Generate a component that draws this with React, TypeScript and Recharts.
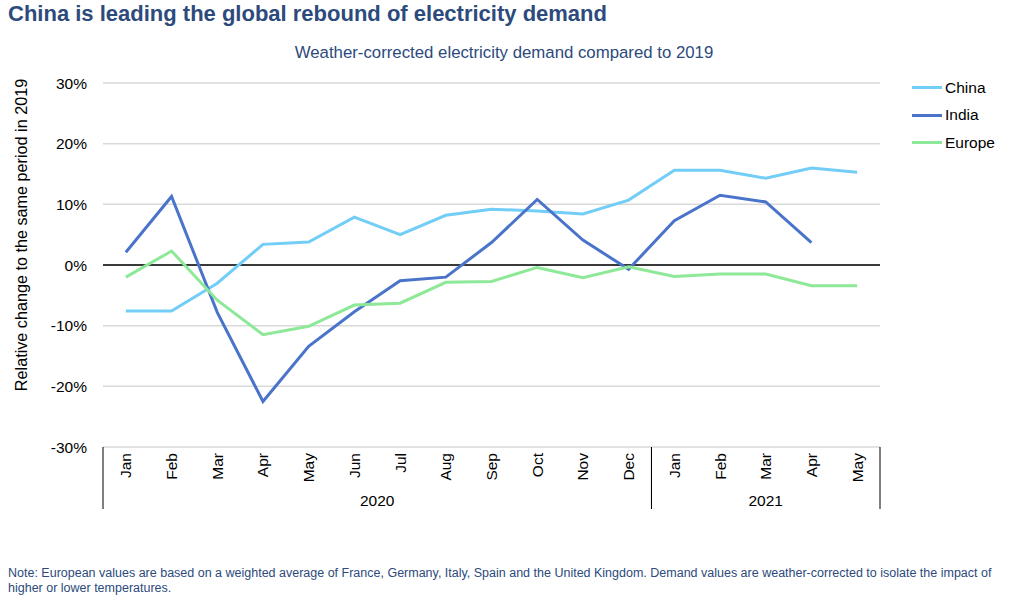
import React from 'react';
import { LineChart, Line, XAxis, YAxis, CartesianGrid, ReferenceLine } from 'recharts';

const months = ['Jan', 'Feb', 'Mar', 'Apr', 'May', 'Jun', 'Jul', 'Aug', 'Sep', 'Oct', 'Nov', 'Dec', 'Jan', 'Feb', 'Mar', 'Apr', 'May'];
const years = ['2020', '2020', '2020', '2020', '2020', '2020', '2020', '2020', '2020', '2020', '2020', '2020', '2021', '2021', '2021', '2021', '2021'];
const china = [-7.6, -7.6, -3.0, 3.4, 3.8, 7.9, 5.0, 8.2, 9.2, 8.9, 8.4, 10.7, 15.6, 15.6, 14.3, 16.0, 15.3];
const india: (number | null)[] = [2.1, 11.3, -7.8, -22.5, -13.4, -7.7, -2.6, -2.0, 3.7, 10.8, 4.1, -0.7, 7.3, 11.5, 10.4, 3.7, null];
const europe = [-2.0, 2.3, -5.8, -11.5, -10.1, -6.6, -6.3, -2.85, -2.7, -0.4, -2.1, -0.3, -1.9, -1.5, -1.5, -3.4, -3.4];
const yTicks = [-30, -20, -10, 0, 10, 20, 30];

const seriesDefs = [
  { key: 'China', values: china, color: '#72CDF7' },
  { key: 'India', values: india, color: '#4A74C9' },
  { key: 'Europe', values: europe, color: '#8DE898' },
];

const data = months.map((m, i) => ({
  idx: i,
  month: m,
  year: years[i],
  China: china[i],
  India: india[i],
  Europe: europe[i],
}));

const FONT = '"Liberation Sans", Arial, Helvetica, sans-serif';
const NAVY = '#2C4A7C';

const PLOT_LEFT = 103;
const PLOT_RIGHT = 880;

const MonthTick = (props: any) => {
  const { x, y, payload } = props;
  const i = payload.index;
  const half = payload.offset && payload.offset > 0 ? payload.offset : (PLOT_RIGHT - PLOT_LEFT) / months.length / 2;
  const items: React.ReactNode[] = [];
  items.push(
    <text key="t" x={x} y={y} transform={`rotate(-90, ${x}, ${y})`} textAnchor="end" dominantBaseline="central"
      fontSize={15.5} fill="#000" fontFamily={FONT}>{months[i]}</text>
  );
  const top = y - 6;
  const isFirst = i === 0 || years[i - 1] !== years[i];
  const isLast = i === months.length - 1 || years[i + 1] !== years[i];
  if (isFirst) items.push(<line key="l" x1={x - half} x2={x - half} y1={top} y2={top + 62} stroke="#000" strokeWidth={1} />);
  if (isLast) items.push(<line key="r" x1={x + half} x2={x + half} y1={top} y2={top + 62} stroke="#000" strokeWidth={1} />);
  let start = i;
  while (start > 0 && years[start - 1] === years[i]) start--;
  let end = i;
  while (end < months.length - 1 && years[end + 1] === years[i]) end++;
  const mid = (start + end) / 2;
  if (Math.floor(mid) === i) {
    const cx = x + (mid - i) * 2 * half;
    items.push(
      <text key="y" x={cx} y={top + 53} textAnchor="middle" dominantBaseline="central" fontSize={15.5} fill="#000" fontFamily={FONT}>{years[i]}</text>
    );
  }
  return <g>{items}</g>;
};

export default function App() {
  return (
    <div style={{ position: 'absolute', left: 0, top: 0, width: 1024, height: 598, background: '#fff', fontFamily: FONT }}>
      <div style={{ position: 'absolute', left: 8, top: 1, fontSize: 22, fontWeight: 'bold', color: NAVY, whiteSpace: 'nowrap' }}>
        China is leading the global rebound of electricity demand
      </div>
      <div style={{ position: 'absolute', left: 0, width: 1008, top: 43, textAlign: 'center', fontSize: 16.8, color: NAVY }}>
        Weather-corrected electricity demand compared to 2019
      </div>
      <LineChart width={1024} height={598} data={data} margin={{ top: 83, right: 1024 - PLOT_RIGHT, bottom: 81, left: PLOT_LEFT - 60 }}>
        <CartesianGrid horizontal={true} vertical={false} stroke="#D9D9D9" strokeWidth={1.5} />
        <XAxis dataKey="idx" type="category" scale="band" interval={0} axisLine={false} tickLine={false} tickSize={6} tickMargin={0} height={70} tick={<MonthTick />} />
        <YAxis domain={[-30, 30]} ticks={yTicks} interval={0} width={60} axisLine={false} tickLine={false} tickMargin={10}
          tickFormatter={(v: number) => `${v}%`} tick={{ fontSize: 15.5, fill: '#000', fontFamily: FONT }} />
        <ReferenceLine y={0} stroke="#3A3A3A" strokeWidth={2} />
        {seriesDefs.map((s) => (
          <Line key={s.key} dataKey={s.key} stroke={s.color} strokeWidth={3} dot={false} isAnimationActive={false} type="linear" />
        ))}
      </LineChart>
      <div style={{ position: 'absolute', left: 912, top: 74, width: 110, fontFamily: FONT, fontSize: 15.5, color: '#000' }}>
        {seriesDefs.map((s) => (
          <div key={s.key} style={{ display: 'flex', alignItems: 'center', height: 27.5 }}>
            <span style={{ display: 'inline-block', width: 30, height: 3, background: s.color }} />
            <span style={{ marginLeft: 3 }}>{s.key}</span>
          </div>
        ))}
      </div>
      <svg style={{ position: 'absolute', left: 0, top: 0, pointerEvents: 'none' }} width={60} height={598}>
        <text x={21} y={235} transform="rotate(-90, 21, 235)" textAnchor="middle" dominantBaseline="central" fontSize={16.2} fill="#000" fontFamily={FONT}>
          Relative change to the same period in 2019
        </text>
      </svg>
      <div style={{ position: 'absolute', left: 8, top: 566, width: 1000, fontSize: 12.5, lineHeight: '15px', color: NAVY }}>
        Note: European values are based on a weighted average of France, Germany, Italy, Spain and the United Kingdom. Demand values are weather-corrected to isolate the impact of higher or lower temperatures.
      </div>
    </div>
  );
}
